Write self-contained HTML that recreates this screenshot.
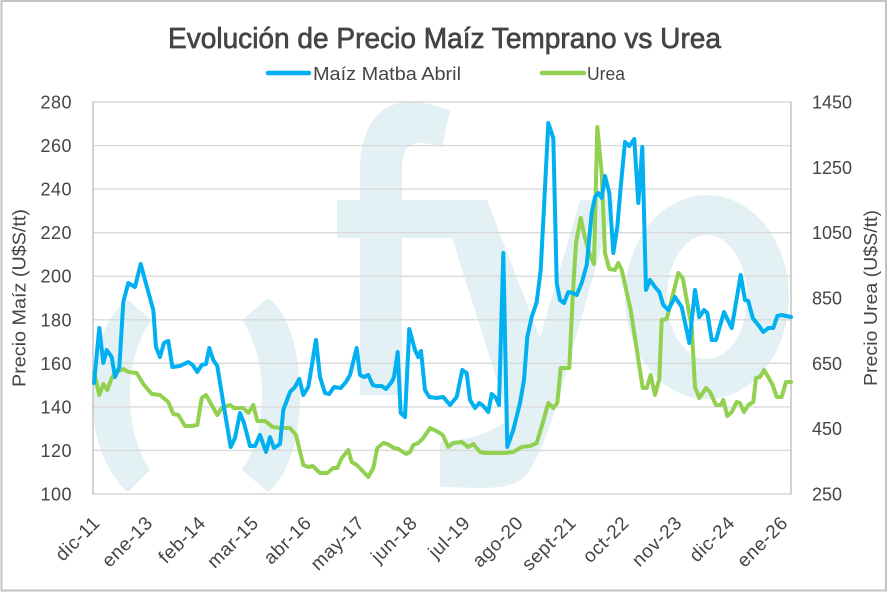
<!DOCTYPE html>
<html>
<head>
<meta charset="utf-8">
<style>
  html,body{margin:0;padding:0;background:#fff;}
  svg{display:block;}
  text{font-family:"Liberation Sans","DejaVu Sans",sans-serif;fill:#454545;}
</style>
</head>
<body>
<svg width="888" height="593" viewBox="0 0 888 593" xmlns="http://www.w3.org/2000/svg">
  <rect x="0" y="0" width="888" height="593" fill="#fff"/>
  <rect x="1.5" y="1" width="884.5" height="589.5" fill="none" stroke="#c3c3c3" stroke-width="2"/>

  <defs>
    <clipPath id="plot"><rect x="93" y="102" width="698" height="392"/></clipPath>
  </defs>

  <!-- watermark -->
  <g clip-path="url(#plot)" fill="#e3f1f5">
    <path d="M128,300 C108,312 92,350 92,395 C92,440 108,476 128,492 L150,470 C137,450 130,425 130,395 C130,365 138,338 152,320 Z"/>
    <path d="M268,298 C288,312 300,350 300,395 C300,440 288,476 268,492 L242,470 C255,450 262,425 262,395 C262,365 255,340 242,320 Z"/>
    <path d="M360,395 L360,238 L337,238 L337,200 L360,200 L360,170 C360,128 378,102 410,102 C425,102 440,106 450,111 L442,147 C435,144 425,143 418,143 C407,143 402,152 402,170 L402,200 L460,200 L460,238 L402,238 L402,395 Z"/>
    <path d="M440,200 L487,200 L540,338 L580,200 L615,200 L575,340 C562,390 548,440 530,470 C520,485 505,488 480,488 L440,487 L440,442 C470,440 495,432 509,418 Z"/>
    <path fill-rule="evenodd" d="M625,297 A82,102 0 1,0 789,297 A82,102 0 1,0 625,297 Z M667,297 A40,62 0 1,0 747,297 A40,62 0 1,0 667,297 Z"/>
  </g>

  <!-- gridlines -->
  <g stroke="#d9d9d9" stroke-width="1.4">
    <line x1="93" y1="102" x2="791" y2="102"/>
    <line x1="93" y1="145.6" x2="791" y2="145.6"/>
    <line x1="93" y1="189.1" x2="791" y2="189.1"/>
    <line x1="93" y1="232.7" x2="791" y2="232.7"/>
    <line x1="93" y1="276.2" x2="791" y2="276.2"/>
    <line x1="93" y1="319.8" x2="791" y2="319.8"/>
    <line x1="93" y1="363.3" x2="791" y2="363.3"/>
    <line x1="93" y1="406.9" x2="791" y2="406.9"/>
    <line x1="93" y1="450.4" x2="791" y2="450.4"/>
    <line x1="93" y1="494" x2="791" y2="494"/>
  </g>
  <g stroke="#bfbfbf" stroke-width="1.4">
    <line x1="93" y1="101.5" x2="93" y2="494.5"/>
    <line x1="791" y1="101.5" x2="791" y2="494.5"/>
  </g>

  <!-- series -->
  <g fill="none" stroke-width="4" stroke-linejoin="round" stroke-linecap="round">
    <polyline stroke="#92d050" points="94,372 99.3,395 103.3,384 107.3,390 111.7,378 116.7,372 123.3,369 128.3,372 136.7,373 143.3,384 151.7,394 160,395 168.3,402 173.3,414 178.3,415 185,426 191.7,426 197.3,425 201.7,398 206,395 217.3,415 221.7,408 230,405 234,408 243.3,408 248.3,413 253.3,405 257.3,421 265,421 272.7,427 280,428 290,428 296,435 303.3,465 308.3,467 312.7,466 320,473 327.3,473 333.3,468 337.3,468 341.7,458 348.3,450 351.7,462 356.7,465 361.7,470 368.3,477 373.3,468 377.3,448 383.3,443 387.3,444 394,448 398.3,449 406,454 410,452 413.3,445 418.3,443 423.3,438 430,428 438.3,432 442.7,435 448.3,447 453.3,443 461.7,442 468.3,447 473.3,444 480,452 485,453 496.7,453 505,453 513.3,452 521.7,447 530,446 536.7,443 542.7,423 548.3,403 553.3,408 557.3,403 560.7,368 569.3,368 572.7,297 576,243 580.7,218 585,238 589.3,253 594,264 597.3,127 601.7,173 605,253 609.3,269 615,270 618.3,263 621.7,270 630.7,310 642.7,388 646.7,388 650.7,375 655,395 659.3,379 661.7,320 666.7,319 673.3,293 678.3,273 682.7,278 691.7,327 695,387 699.3,398 706,388 710,392 716,405 720.7,405 723.3,400 727.3,416 731.7,412 736.7,402 740,403 744,412 748.3,405 753.3,402 756,378 760,377 764,370 768.3,377 772.7,385 776.7,397 781.7,397 786,382 791,382"/>
    <polyline stroke="#00b0f0" points="94,383 99.3,328 103.3,363 106.7,350 111.7,357 115,377 119.3,367 123.3,302 128.3,283 135,287 140.7,264 145,280 153.3,310 156,347 160,357 164,343 168.3,341 172.3,367 180,366 188.3,362 192.7,365 197.3,372 201.7,365 206,364 209.3,348 213.3,360 217.3,366 223.3,403 230.7,447 235,438 240,413 244,423 250,446 255,446 260,435 266,452 270,437 274,448 280,444 283.3,410 290,392 295,387 299.3,379 303.3,395 308.3,387 316,340 320,377 325,393 329.3,394 334,387 340.7,388 346,382 350,375 356.7,348 360,375 364,377 368.3,375 372.7,385 376.7,386 381.7,386 386,389 391.7,382 394,377 397.7,352 400.7,413 405,417 409.3,329 415,350 418.3,357 421,351 425,390 429.3,397 436.7,398 443.3,397 450,405 456.7,397 462.3,370 466.7,373 470,400 475,408 479.3,403 483.3,406 488.3,412 491.7,394 496,398 499,405 503.3,253 507.3,447 513.3,430 520,403 524,380 527.3,337 531.7,317 536.7,302 540.7,270 544,207 548.3,123 553.3,138 556.7,283 560,300 564,303 568.3,292 572.7,293 576.7,295 581.7,283 586.7,265 591.7,213 595,197 598.3,193 601.7,198 605,176 609.3,193 613.3,253 617.3,227 620.7,187 625,142 629.3,146 634.3,139 638.3,203 642.3,147 646,290 650,280 655,287 659.3,292 663.3,305 668.3,310 675,297 681.7,307 689.3,343 695,290 699.3,317 704,310 707.3,313 711.7,340 716,340 724,312 731.7,328 740.7,275 745,300 748.3,301 752.7,318 758.3,325 763.3,332 768.3,328 773.3,328 777.3,316 781.7,315 791,317"/>
  </g>

  <!-- title -->
  <text x="168" y="48" font-size="29" stroke="#454545" stroke-width="0.7" textLength="553" lengthAdjust="spacingAndGlyphs">Evolución de Precio Maíz Temprano vs Urea</text>

  <!-- legend -->
  <line x1="268" y1="73" x2="309" y2="73" stroke="#00b0f0" stroke-width="4.5" stroke-linecap="round"/>
  <text x="313" y="80" font-size="18" textLength="148" lengthAdjust="spacingAndGlyphs">Maíz Matba Abril</text>
  <line x1="542" y1="73" x2="584" y2="73" stroke="#92d050" stroke-width="4.5" stroke-linecap="round"/>
  <text x="587" y="80" font-size="18" textLength="38" lengthAdjust="spacingAndGlyphs">Urea</text>

  <!-- left axis labels -->
  <g font-size="18" text-anchor="end" letter-spacing="0.5">
    <text x="72" y="108.5">280</text>
    <text x="72" y="152.1">260</text>
    <text x="72" y="195.6">240</text>
    <text x="72" y="239.2">220</text>
    <text x="72" y="282.7">200</text>
    <text x="72" y="326.3">180</text>
    <text x="72" y="369.8">160</text>
    <text x="72" y="413.4">140</text>
    <text x="72" y="456.9">120</text>
    <text x="72" y="500.5">100</text>
  </g>

  <!-- right axis labels -->
  <g font-size="18">
    <text x="812" y="108.5">1450</text>
    <text x="812" y="173.8">1250</text>
    <text x="812" y="239.2">1050</text>
    <text x="812" y="304.5">850</text>
    <text x="812" y="369.8">650</text>
    <text x="812" y="435.2">450</text>
    <text x="812" y="500.5">250</text>
  </g>

  <!-- axis titles -->
  <text font-size="18" text-anchor="middle" transform="translate(25.5,298) rotate(-90)" textLength="178" lengthAdjust="spacingAndGlyphs">Precio Maíz (U$S/tt)</text>
  <text font-size="18" text-anchor="middle" transform="translate(877,298) rotate(-90)" textLength="176" lengthAdjust="spacingAndGlyphs">Precio Urea (U$S/tt)</text>

  <!-- x labels -->
  <g font-size="19" text-anchor="end" letter-spacing="0.6">
    <text transform="translate(101,524) rotate(-45)">dic-11</text>
    <text transform="translate(153.9,524) rotate(-45)">ene-13</text>
    <text transform="translate(206.8,524) rotate(-45)">feb-14</text>
    <text transform="translate(259.8,524) rotate(-45)">mar-15</text>
    <text transform="translate(312.7,524) rotate(-45)">abr-16</text>
    <text transform="translate(365.6,524) rotate(-45)">may-17</text>
    <text transform="translate(418.5,524) rotate(-45)">jun-18</text>
    <text transform="translate(471.4,524) rotate(-45)">jul-19</text>
    <text transform="translate(524.4,524) rotate(-45)">ago-20</text>
    <text transform="translate(577.3,524) rotate(-45)">sept-21</text>
    <text transform="translate(630.2,524) rotate(-45)">oct-22</text>
    <text transform="translate(683.1,524) rotate(-45)">nov-23</text>
    <text transform="translate(736,524) rotate(-45)">dic-24</text>
    <text transform="translate(789,524) rotate(-45)">ene-26</text>
  </g>
</svg>
</body>
</html>
